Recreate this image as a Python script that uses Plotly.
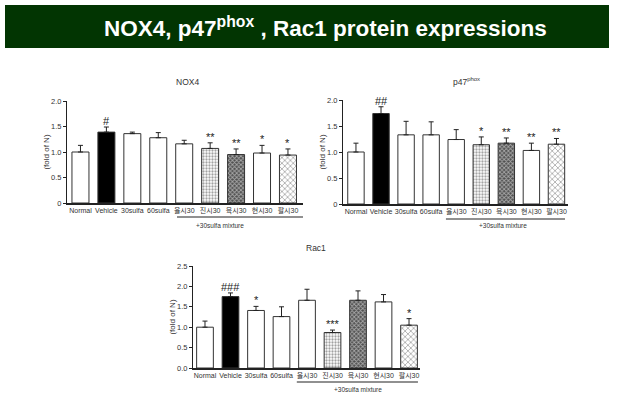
import plotly.graph_objects as go

categories = ["Normal", "Vehicle", "30sulfa", "60sulfa", "율시30", "진시30", "육시30", "현시30", "팔시30"]

nox4_values = [1.00, 1.39, 1.36, 1.28, 1.16, 1.07, 0.95, 0.98, 0.94]
nox4_errors = [0.13, 0.10, 0.03, 0.10, 0.07, 0.11, 0.11, 0.15, 0.12]
nox4_marks = ["", "#", "", "", "", "**", "**", "*", "*"]

p47_values = [1.00, 1.74, 1.33, 1.33, 1.24, 1.14, 1.17, 1.03, 1.15]
p47_errors = [0.17, 0.13, 0.26, 0.25, 0.19, 0.15, 0.10, 0.14, 0.11]
p47_marks = ["", "##", "", "", "", "*", "**", "**", "**"]

rac1_values = [1.00, 1.75, 1.41, 1.26, 1.66, 0.87, 1.66, 1.62, 1.05]
rac1_errors = [0.15, 0.09, 0.10, 0.24, 0.27, 0.06, 0.23, 0.18, 0.16]
rac1_marks = ["", "###", "*", "", "", "***", "", "", "*"]

ytick_vals_2 = [0, 0.5, 1.0, 1.5, 2.0]
ytick_text_2 = ["0", "0.5", "1.0", "1.5", "2.0"]
ytick_vals_25 = [0, 0.5, 1.0, 1.5, 2.0, 2.5]
ytick_text_25 = ["0.0", "0.5", "1.0", "1.5", "2.0", "2.5"]

fill_colors = ["white", "black", "white", "white", "white", "white", "#505050", "white", "white"]
pattern_shapes = ["", "", "", "", "", ".", "x", "", "x"]
pattern_fg = ["black", "black", "black", "black", "black", "#a8a8a8", "#111111", "black", "#333333"]
pattern_size = [4, 4, 4, 4, 4, 3, 3, 4, 4]
pattern_solid = [0.3, 0.3, 0.3, 0.3, 0.3, 0.45, 0.5, 0.3, 0.35]

FONT = "Liberation Sans, Arial, Noto Sans CJK KR, sans-serif"

fig = go.Figure()

panels = [
    dict(vals=nox4_values, errs=nox4_errors, marks=nox4_marks, xa="x", ya="y"),
    dict(vals=p47_values, errs=p47_errors, marks=p47_marks, xa="x2", ya="y2"),
    dict(vals=rac1_values, errs=rac1_errors, marks=rac1_marks, xa="x3", ya="y3"),
]

for p in panels:
    fig.add_trace(go.Bar(
        x=categories, y=p["vals"], xaxis=p["xa"], yaxis=p["ya"],
        marker=dict(color=fill_colors, line=dict(color="#333333", width=1),
                    pattern=dict(shape=pattern_shapes, fgcolor=pattern_fg,
                                 bgcolor=fill_colors, size=pattern_size,
                                 solidity=pattern_solid, fillmode="overlay")),
        error_y=dict(type="data", array=p["errs"], arrayminus=[0] * len(p["errs"]),
                     symmetric=False, color="#222222", thickness=1, width=2.5),
        showlegend=False, hoverinfo="skip",
    ))
    for c, v, e, m in zip(categories, p["vals"], p["errs"], p["marks"]):
        if m:
            fig.add_annotation(x=c, y=v + e, xref=p["xa"], yref=p["ya"], text=m,
                               showarrow=False, xanchor="center", yanchor="bottom", yshift=-2,
                               font=dict(size=11, color="#222222", family=FONT))

common_x = dict(type="category", showline=True, linecolor="#222222", linewidth=1.5,
                ticks="", showgrid=False, zeroline=False, tickangle=0, automargin=False,
                tickfont=dict(size=7, color="#333333", family=FONT))
common_y = dict(showline=True, linecolor="#222222", linewidth=1, ticks="outside",
                ticklen=3, tickwidth=1, tickcolor="#222222", showgrid=False, zeroline=False,
                automargin=False,
                tickfont=dict(size=7.5, color="#333333", family=FONT),
                title=dict(text="(fold of N)", font=dict(size=8, color="#333333", family=FONT), standoff=0))

fig.update_layout(
    width=619, height=400, margin=dict(l=0, r=0, t=0, b=0, autoexpand=False),
    paper_bgcolor="white", plot_bgcolor="white", bargap=0.345,
    font=dict(family=FONT),
    xaxis=dict(common_x, domain=[0.1082, 0.4895], range=[-0.52, 8.58], anchor="y"),
    yaxis=dict(common_y, domain=[0.4925, 0.7475], range=[0, 2.0], anchor="x",
               tickvals=ytick_vals_2, ticktext=ytick_text_2),
    xaxis2=dict(common_x, domain=[0.554, 0.9176], range=[-0.52, 8.46], anchor="y2"),
    yaxis2=dict(common_y, domain=[0.49, 0.75], range=[0, 2.0], anchor="x2",
                tickvals=ytick_vals_2, ticktext=ytick_text_2),
    xaxis3=dict(common_x, domain=[0.3118, 0.6785], range=[-0.47, 8.43], anchor="y3"),
    yaxis3=dict(common_y, domain=[0.08, 0.335], range=[0, 2.5], anchor="x3",
                tickvals=ytick_vals_25, ticktext=ytick_text_25),
)

# header band
fig.add_shape(type="rect", xref="paper", yref="paper", x0=5 / 619, x1=609 / 619,
              y0=1 - 48 / 400, y1=1 - 5 / 400, fillcolor="#023502", line=dict(width=0), layer="below")
fig.add_annotation(xref="paper", yref="paper", x=325 / 619, y=1 - 27 / 400,
                   xanchor="center", yanchor="middle",
                   text="<b>NOX4, p47<sup>phox</sup> , Rac1 protein expressions</b>",
                   showarrow=False, font=dict(size=22.5, color="white", family=FONT))

# panel titles
titles = [("NOX4", 187, 82), ("p47<sup>phox</sup>", 467, 82), ("Rac1", 316, 248)]
for t, px, py in titles:
    fig.add_annotation(xref="paper", yref="paper", x=px / 619, y=1 - py / 400, text=t,
                       xanchor="center", yanchor="middle",
                       showarrow=False, font=dict(size=8.5, color="#333333", family=FONT))

# mixture underline and label
mixes = [("x", 3.72, 8.58, 217, 5.38, 225), ("x2", 3.59, 8.34, 219, 5.87, 225), ("x3", 3.6, 8.35, 382, 6.0, 389)]
for xa, a, b, ly, tx, ty in mixes:
    fig.add_shape(type="line", xref=xa, yref="paper", x0=a, x1=b, y0=1 - ly / 400, y1=1 - ly / 400,
                  line=dict(color="#222222", width=1.2))
    fig.add_annotation(xref=xa, yref="paper", x=tx, y=1 - ty / 400, text="+30sulfa mixture",
                       xanchor="center", yanchor="middle",
                       showarrow=False, font=dict(size=6.5, color="#333333", family=FONT))

fig.write_html("out.html", config={"displayModeBar": False},
               post_script="document.body.style.margin='0px';document.body.style.overflow='hidden';")
